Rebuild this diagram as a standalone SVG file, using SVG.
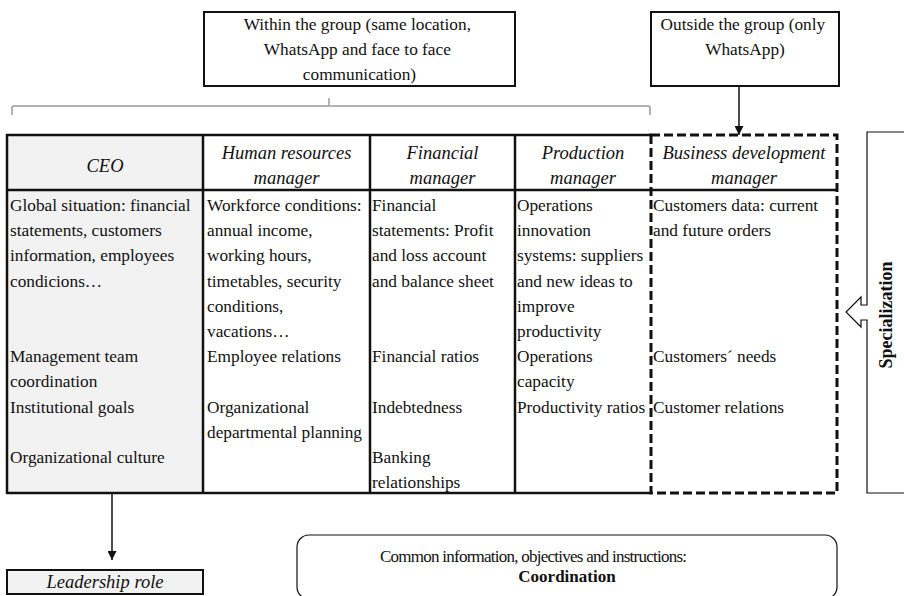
<svg xmlns="http://www.w3.org/2000/svg" width="904" height="596" viewBox="0 0 904 596">
<style>
  .t { font-family: "Liberation Serif", "Times New Roman", serif; font-size: 17.3px; fill: #111; }
  .h { font-family: "Liberation Serif", "Times New Roman", serif; font-size: 18.5px; font-style: italic; fill: #111; text-anchor: middle; }
  .box { fill: #fff; stroke: #111; stroke-width: 2; }
  .grid { fill: none; stroke: #111; stroke-width: 2.5; }
  .conn { fill: none; stroke: #111; stroke-width: 1.5; }
</style>
<defs>
  <marker id="ah" viewBox="0 0 10 10" refX="10" refY="5" markerWidth="9" markerHeight="9" markerUnits="userSpaceOnUse" orient="auto">
    <path d="M0,0 L10,5 L0,10 z" fill="#111"/>
  </marker>
</defs>
<rect width="904" height="596" fill="#fff"/>

<g id="within-group">
  <rect class="box" x="204" y="12" width="311" height="74"/>
  <text class="t" text-anchor="middle">
    <tspan x="359.5" y="30">Within the group (same location,</tspan>
    <tspan x="359.5" y="55">WhatsApp and face to face</tspan>
    <tspan x="359.5" y="80">communication)</tspan>
  </text>
</g>

<g id="outside-group">
  <rect class="box" x="651" y="12" width="188" height="74"/>
  <text class="t" text-anchor="middle">
    <tspan x="745" y="30">Outside the group (only</tspan>
    <tspan x="745" y="55">WhatsApp)</tspan>
  </text>
</g>

<g id="bracket">
  <path d="M12,115 V108 Q12,106 14,106 H329 V98 M330,106 H648 Q650,106 650,108 V115" fill="none" stroke="#999" stroke-width="1.5"/>
</g>

<g id="table">
  <rect x="7" y="135" width="196" height="358" fill="#f2f2f2"/>
  <path class="grid" d="M651,135 H7 V493 H651" stroke-width="3"/>
  <path class="grid" d="M7,190 H837 M203,135 V493 M370,135 V493 M515,135 V493"/>
  <rect x="651" y="135" width="186" height="358" fill="none" stroke="#111" stroke-width="3" stroke-dasharray="9 4"/>
</g>

<g id="col-ceo">
  <text class="h" x="105" y="172">CEO</text>
  <text class="t">
    <tspan x="10" y="211">Global situation: financial</tspan>
    <tspan x="10" y="236.2">statements, customers</tspan>
    <tspan x="10" y="261.4">information, employees</tspan>
    <tspan x="10" y="286.6">condicions…</tspan>
    <tspan x="10" y="362.2">Management team</tspan>
    <tspan x="10" y="387.4">coordination</tspan>
    <tspan x="10" y="412.6">Institutional goals</tspan>
    <tspan x="10" y="463">Organizational culture</tspan>
  </text>
</g>

<g id="col-hr">
  <text class="h"><tspan x="286.5" y="159">Human resources</tspan><tspan x="286.5" y="184">manager</tspan></text>
  <text class="t">
    <tspan x="207" y="211">Workforce conditions:</tspan>
    <tspan x="207" y="236.2">annual income,</tspan>
    <tspan x="207" y="261.4">working hours,</tspan>
    <tspan x="207" y="286.6">timetables, security</tspan>
    <tspan x="207" y="311.8">conditions,</tspan>
    <tspan x="207" y="337">vacations…</tspan>
    <tspan x="207" y="362.2">Employee relations</tspan>
    <tspan x="207" y="412.6">Organizational</tspan>
    <tspan x="207" y="437.8">departmental planning</tspan>
  </text>
</g>

<g id="col-financial">
  <text class="h"><tspan x="442.5" y="159">Financial</tspan><tspan x="442.5" y="184">manager</tspan></text>
  <text class="t">
    <tspan x="372" y="211">Financial</tspan>
    <tspan x="372" y="236.2">statements: Profit</tspan>
    <tspan x="372" y="261.4">and loss account</tspan>
    <tspan x="372" y="286.6">and balance sheet</tspan>
    <tspan x="372" y="362.2">Financial ratios</tspan>
    <tspan x="372" y="412.6">Indebtedness</tspan>
    <tspan x="372" y="463">Banking</tspan>
    <tspan x="372" y="488.2">relationships</tspan>
  </text>
</g>

<g id="col-production">
  <text class="h"><tspan x="583" y="159">Production</tspan><tspan x="583" y="184">manager</tspan></text>
  <text class="t">
    <tspan x="517" y="211">Operations</tspan>
    <tspan x="517" y="236.2">innovation</tspan>
    <tspan x="517" y="261.4">systems: suppliers</tspan>
    <tspan x="517" y="286.6">and new ideas to</tspan>
    <tspan x="517" y="311.8">improve</tspan>
    <tspan x="517" y="337">productivity</tspan>
    <tspan x="517" y="362.2">Operations</tspan>
    <tspan x="517" y="387.4">capacity</tspan>
    <tspan x="517" y="412.6">Productivity ratios</tspan>
  </text>
</g>

<g id="col-business">
  <text class="h"><tspan x="744" y="159">Business development</tspan><tspan x="744" y="184">manager</tspan></text>
  <text class="t">
    <tspan x="653" y="211">Customers data: current</tspan>
    <tspan x="653" y="236.2">and future orders</tspan>
    <tspan x="653" y="362.2">Customers´ needs</tspan>
    <tspan x="653" y="412.6">Customer relations</tspan>
  </text>
</g>

<g id="specialization">
  <path d="M906,132 H867 V305 H861 V297 L846,312 L861,327 V320 H867 V493 H906" fill="#fff" stroke="#111" stroke-width="1.2"/>
  <text class="t" transform="translate(892,315) rotate(-90)" text-anchor="middle" style="font-size:18px;font-weight:bold">Specialization</text>
</g>

<g id="leadership">
  <rect x="7" y="570" width="196" height="24" fill="#f2f2f2" stroke="#111" stroke-width="2"/>
  <text class="h" x="105" y="588">Leadership role</text>
</g>

<g id="coordination">
  <rect x="297" y="535" width="540" height="64" rx="12" fill="#fff" stroke="#111" stroke-width="1.2"/>
  <text class="t" style="font-size:17px">
    <tspan x="380" y="562" textLength="307" lengthAdjust="spacing">Common information, objectives and instructions:</tspan>
    <tspan x="567" y="582" text-anchor="middle" font-weight="bold">Coordination</tspan>
  </text>
</g>

<g id="connectors">
  <line class="conn" x1="739" y1="86" x2="739" y2="135" marker-end="url(#ah)"/>
  <line class="conn" x1="112" y1="493" x2="112" y2="560" marker-end="url(#ah)"/>
</g>
</svg>
